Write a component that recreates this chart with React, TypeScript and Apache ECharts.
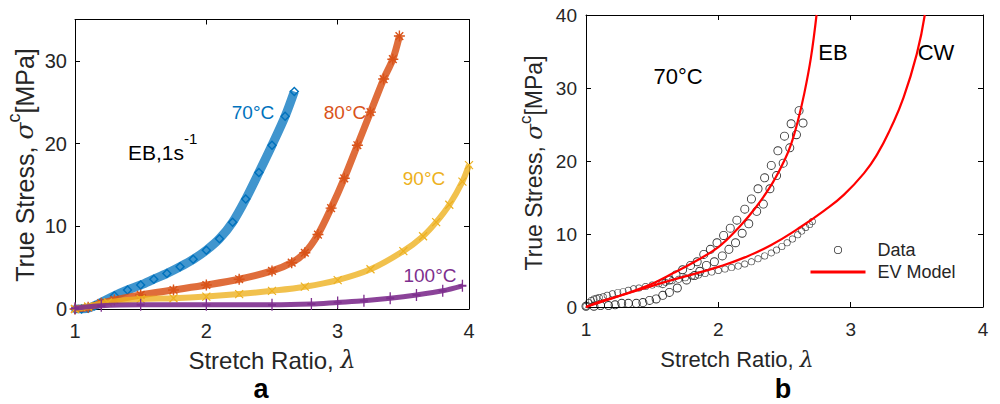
import React, { useEffect, useRef } from "react";
import * as echarts from "echarts";

// ---------- Panel a: EB, 1 s^-1 ----------
const t70X = [1.0, 1.05, 1.1, 1.15, 1.2, 1.3, 1.4, 1.5, 1.6, 1.7, 1.8, 1.9, 2.0, 2.1, 2.2, 2.3, 2.4, 2.5, 2.6, 2.67];
const t70Y = [0, 0, 0.1, 0.4, 0.8, 1.6, 2.3, 2.9, 3.6, 4.3, 5.1, 6.0, 7.1, 8.5, 10.5, 13.3, 16.5, 19.8, 23.3, 26.3];

const t80X = [1.0, 1.1, 1.2, 1.3, 1.5, 1.75, 2.0, 2.25, 2.5, 2.65, 2.75, 2.85, 2.95, 3.05, 3.15, 3.25, 3.35, 3.42, 3.47];
const t80Y = [0, 0.2, 0.7, 1.1, 1.7, 2.3, 2.9, 3.6, 4.6, 5.6, 6.8, 9.0, 12.2, 15.8, 19.8, 23.8, 27.8, 30.2, 33.0];

const t90X = [1.0, 1.1, 1.25, 1.5, 1.75, 2.0, 2.25, 2.5, 2.75, 3.0, 3.25, 3.5, 3.65, 3.75, 3.85, 3.95, 4.0];
const t90Y = [0, 0.3, 0.8, 1.2, 1.3, 1.5, 1.8, 2.2, 2.7, 3.5, 4.8, 7.0, 8.8, 10.5, 12.6, 15.4, 17.4];

const t100X = [1.0, 1.2, 1.5, 2.0, 2.5, 2.8, 3.0, 3.2, 3.4, 3.6, 3.8, 3.95];
const t100Y = [0.1, 0.4, 0.5, 0.5, 0.5, 0.6, 0.8, 1.0, 1.3, 1.7, 2.2, 2.8];

const aYTicks = [0, 10, 20, 30];

// ---------- Panel b: 70 C, data vs EV model ----------
const ebUpperX = [1.58, 1.63, 1.68, 1.73, 1.79, 1.84, 1.89, 1.94, 1.99, 2.04, 2.09, 2.14, 2.2, 2.25, 2.3, 2.35, 2.4, 2.45, 2.5, 2.55, 2.61];
const ebUpperY = [3.2, 3.7, 4.4, 5.1, 5.7, 6.2, 7.2, 7.9, 8.8, 9.8, 10.8, 11.9, 13.4, 14.8, 16.2, 17.7, 19.4, 21.4, 23.4, 25.1, 26.9];
const ebLowerX = [1.0, 1.06, 1.11, 1.17, 1.22, 1.27, 1.32, 1.38, 1.43, 1.48, 1.53, 1.58, 1.63, 1.69, 1.76, 1.82, 1.86, 1.91, 1.97, 2.03, 2.08, 2.13, 2.18, 2.23, 2.29, 2.34, 2.39, 2.44, 2.49, 2.54, 2.59, 2.64];
const ebLowerY = [0.1, 0.1, 0.2, 0.2, 0.3, 0.5, 0.5, 0.5, 0.6, 0.9, 1.1, 1.6, 2.0, 2.6, 3.7, 4.3, 4.9, 5.7, 6.2, 7.0, 7.9, 8.8, 10.1, 11.4, 13.1, 14.1, 16.2, 18.0, 19.7, 21.8, 23.6, 25.2];

const cwDataX = [1.0, 1.02, 1.04, 1.06, 1.08, 1.1, 1.13, 1.16, 1.2, 1.24, 1.28, 1.32, 1.36, 1.4, 1.45, 1.5, 1.55, 1.6, 1.65, 1.7, 1.75, 1.8, 1.85, 1.9, 1.95, 2.0, 2.05, 2.1, 2.15, 2.2, 2.25, 2.3, 2.35, 2.4, 2.44, 2.48, 2.52, 2.56, 2.6, 2.63, 2.66, 2.69, 2.71];
const cwDataY = [0.1, 0.6, 0.9, 1.1, 1.2, 1.3, 1.4, 1.6, 1.8, 2.0, 2.1, 2.3, 2.5, 2.6, 2.8, 3.0, 3.2, 3.4, 3.6, 3.8, 4.0, 4.2, 4.4, 4.6, 4.8, 5.0, 5.2, 5.4, 5.6, 5.9, 6.2, 6.6, 7.0, 7.4, 7.8, 8.3, 8.8, 9.3, 9.9, 10.4, 10.9, 11.3, 11.7];

const ebModelX = [1.0, 1.1, 1.25, 1.5, 1.66, 1.8, 2.0, 2.16, 2.29, 2.41, 2.5, 2.55, 2.6, 2.65, 2.7, 2.742];
const ebModelY = [0, 0.6, 1.5, 3.2, 4.65, 6.0, 8.2, 11.0, 13.8, 17.0, 20.1, 22.3, 25.4, 29.3, 34.2, 40];

const cwModelX = [1.0, 1.1, 1.25, 1.5, 1.75, 2.0, 2.2, 2.4, 2.6, 2.8, 2.95, 3.1, 3.2, 3.3, 3.4, 3.5, 3.56];
const cwModelY = [0, 0.7, 1.5, 2.9, 4.2, 5.5, 6.8, 8.5, 10.7, 13.2, 15.4, 18.3, 20.9, 24.4, 28.7, 34.7, 40];

const zip = (xs: number[], ys: number[]) => xs.map((x, i) => [x, ys[i]]);

const C70 = "#0072BD";
const C80 = "#D95319";
const C90 = "#EDB120";
const C100 = "#7E2F8E";
const TXT = "#262626";
const FONT = "'Liberation Sans', Arial, sans-serif";
const SERIF = "'DejaVu Serif', serif";

const DIAMOND = "path://M5,0L10,5L5,10L0,5Z M5,2L2,5L5,8L8,5Z";
const ASTERISK = "path://M5,0L5,10M0,5L10,5M1.5,1.5L8.5,8.5M8.5,1.5L1.5,8.5";
const CROSS = "path://M0,0L10,10M10,0L0,10";
const PLUS = "path://M5,0L5,10M0,5L10,5";
const RING = "path://M0,10A10,10 0 1,0 20,10A10,10 0 1,0 0,10Z M2,10A8,8 0 1,1 18,10A8,8 0 1,1 2,10Z";
const BAR = "path://M0,0L55,0L55,3L0,3Z";

export default function App() {
  const ref = useRef<HTMLDivElement>(null);

  useEffect(() => {
    if (!ref.current) return;
    const chart = echarts.init(ref.current, undefined, { renderer: "svg" });

    const axisLine = { show: true, onZero: false, lineStyle: { color: "#000", width: 1 } };
    const tick = { show: true, inside: true, length: 5, lineStyle: { color: "#000" } };
    const label = (fs: number, margin: number) => ({ color: TXT, fontSize: fs, fontFamily: FONT, margin });
    const base = { type: "value", axisLine, axisTick: tick, splitLine: { show: false } };
    const noLabel = { axisLabel: { show: false } };

    const option: any = {
      animation: false,
      backgroundColor: "#fff",
      grid: [
        { left: 75, right: 531, top: 19.5, bottom: 95 },
        { left: 586, right: 17, top: 15, bottom: 97 },
      ],
      xAxis: [
        { ...base, gridIndex: 0, min: 1, max: 4, interval: 1, position: "bottom", axisLabel: label(20, 12) },
        { ...base, gridIndex: 0, min: 1, max: 4, interval: 1, position: "top", ...noLabel },
        { ...base, gridIndex: 1, min: 1, max: 4, interval: 1, position: "bottom", axisLabel: label(19, 13) },
        { ...base, gridIndex: 1, min: 1, max: 4, interval: 1, position: "top", ...noLabel },
      ],
      yAxis: [
        { ...base, gridIndex: 0, min: 0, max: 35, interval: 10, position: "left", axisLabel: { ...label(20, 8), customValues: aYTicks }, axisTick: { ...tick, customValues: aYTicks } },
        { ...base, gridIndex: 0, min: 0, max: 35, interval: 10, position: "right", ...noLabel, axisTick: { ...tick, customValues: aYTicks } },
        { ...base, gridIndex: 1, min: 0, max: 40, interval: 10, position: "left", axisLabel: label(19, 9) },
        { ...base, gridIndex: 1, min: 0, max: 40, interval: 10, position: "right", ...noLabel },
      ],
      legend: {
        show: true,
        orient: "vertical",
        left: 805.5,
        top: 235,
        itemWidth: 55,
        itemHeight: 8,
        itemGap: 2,
        selectedMode: false,
        symbolKeepAspect: true,
        textStyle: { color: TXT, fontSize: 18, fontFamily: FONT, lineHeight: 20, padding: [0, 0, 0, 7] },
        data: [
          { name: "Data", icon: RING },
          { name: "EV Model", icon: BAR },
        ],
      },
      series: [
        // panel a
        {
          name: "70°C", type: "line", xAxisIndex: 0, yAxisIndex: 0, data: zip(t70X, t70Y), smooth: 0.3,
          lineStyle: { color: C70, width: 9, opacity: 0.75 }, symbol: DIAMOND, symbolSize: 10,
          itemStyle: { color: C70 }, z: 2,
        },
        {
          name: "80°C", type: "line", xAxisIndex: 0, yAxisIndex: 0, data: zip(t80X, t80Y), smooth: 0.3,
          lineStyle: { color: C80, width: 7, opacity: 0.85 }, symbol: ASTERISK, symbolSize: 11,
          itemStyle: { color: "none", borderColor: C80, borderWidth: 1.4 }, z: 3,
        },
        {
          name: "90°C", type: "line", xAxisIndex: 0, yAxisIndex: 0, data: zip(t90X, t90Y), smooth: 0.3,
          lineStyle: { color: C90, width: 6, opacity: 0.8 }, symbol: CROSS, symbolSize: 8,
          itemStyle: { color: "none", borderColor: C90, borderWidth: 1.2 }, z: 4,
        },
        {
          name: "100°C", type: "line", xAxisIndex: 0, yAxisIndex: 0, data: zip(t100X, t100Y), smooth: 0.3,
          lineStyle: { color: C100, width: 5, opacity: 0.9 }, symbol: PLUS, symbolSize: [8, 12],
          itemStyle: { color: "none", borderColor: C100, borderWidth: 1.6 }, z: 5,
        },
        // panel b
        {
          name: "Data", type: "scatter", xAxisIndex: 2, yAxisIndex: 2, data: zip(ebUpperX, ebUpperY),
          symbol: RING, symbolSize: 9, itemStyle: { color: "#000" }, z: 2,
        },
        {
          name: "Data", type: "scatter", xAxisIndex: 2, yAxisIndex: 2, data: zip(ebLowerX, ebLowerY),
          symbol: RING, symbolSize: 9, itemStyle: { color: "#000" }, z: 2,
        },
        {
          name: "Data", type: "scatter", xAxisIndex: 2, yAxisIndex: 2, data: zip(cwDataX, cwDataY),
          symbol: RING, symbolSize: 7, itemStyle: { color: "#222" }, z: 2,
        },
        {
          name: "EV Model", type: "line", xAxisIndex: 2, yAxisIndex: 2, data: zip(ebModelX, ebModelY), smooth: 0.4,
          showSymbol: false, symbol: "none", lineStyle: { color: "#FF0000", width: 2.2 }, itemStyle: { color: "#FF0000" }, z: 5,
        },
        {
          name: "EV Model", type: "line", xAxisIndex: 2, yAxisIndex: 2, data: zip(cwModelX, cwModelY), smooth: 0.5,
          showSymbol: false, symbol: "none", lineStyle: { color: "#FF0000", width: 2.2 }, itemStyle: { color: "#FF0000" }, z: 5,
        },
      ],
      graphic: [
        // panel a texts
        { type: "text", x: 253, y: 112, style: { text: "70°C", fill: C70, font: `19px ${FONT}`, align: "center", verticalAlign: "middle" } },
        { type: "text", x: 345, y: 112, style: { text: "80°C", fill: C80, font: `19px ${FONT}`, align: "center", verticalAlign: "middle" } },
        { type: "text", x: 424, y: 178, style: { text: "90°C", fill: C90, font: `19px ${FONT}`, align: "center", verticalAlign: "middle" } },
        { type: "text", x: 430, y: 275, style: { text: "100°C", fill: C100, font: `19px ${FONT}`, align: "center", verticalAlign: "middle" } },
        {
          type: "text", x: 128, y: 147,
          style: {
            text: "{n|EB,1s}{s|-1}", align: "left", verticalAlign: "middle",
            rich: {
              n: { fontSize: 21, fontFamily: FONT, fill: "#000", lineHeight: 32, verticalAlign: "bottom" },
              s: { fontSize: 15, fontFamily: FONT, fill: "#000", lineHeight: 32, verticalAlign: "top" },
            },
          },
        },
        {
          type: "text", x: 272, y: 360.3,
          style: {
            text: "{n|Stretch Ratio, }{i|λ}", align: "center", verticalAlign: "middle",
            rich: {
              n: { fontSize: 24, fontFamily: FONT, fill: TXT, lineHeight: 24 },
              i: { fontSize: 24, fontFamily: SERIF, fontStyle: "italic", fill: TXT, lineHeight: 24 },
            },
          },
        },
        {
          type: "text", x: 21, y: 165, rotation: Math.PI / 2,
          style: {
            text: "{n|True Stress, }{i|σ}{s|c}{n|[MPa]}", align: "center", verticalAlign: "middle",
            rich: {
              n: { fontSize: 25, fontFamily: FONT, fill: TXT, lineHeight: 32, verticalAlign: "bottom" },
              i: { fontSize: 25, fontFamily: SERIF, fontStyle: "italic", fill: TXT, lineHeight: 32, verticalAlign: "bottom" },
              s: { fontSize: 18, fontFamily: FONT, fill: TXT, lineHeight: 32, verticalAlign: "top" },
            },
          },
        },
        { type: "text", x: 261, y: 388.8, style: { text: "a", fill: "#000", font: `bold 27px ${FONT}`, align: "center", verticalAlign: "middle" } },
        // panel b texts
        { type: "text", x: 678, y: 76, style: { text: "70°C", fill: "#000", font: `22px ${FONT}`, align: "center", verticalAlign: "middle" } },
        { type: "text", x: 833, y: 52, style: { text: "EB", fill: "#000", font: `22px ${FONT}`, align: "center", verticalAlign: "middle" } },
        { type: "text", x: 936, y: 52, style: { text: "CW", fill: "#000", font: `22px ${FONT}`, align: "center", verticalAlign: "middle" } },
        {
          type: "text", x: 737, y: 359,
          style: {
            text: "{n|Stretch Ratio, }{i|λ}", align: "center", verticalAlign: "middle",
            rich: {
              n: { fontSize: 22, fontFamily: FONT, fill: TXT, lineHeight: 22 },
              i: { fontSize: 22, fontFamily: SERIF, fontStyle: "italic", fill: TXT, lineHeight: 22 },
            },
          },
        },
        {
          type: "text", x: 531, y: 163, rotation: Math.PI / 2,
          style: {
            text: "{n|True Stress, }{i|σ}{s|c}{n|[MPa]}", align: "center", verticalAlign: "middle",
            rich: {
              n: { fontSize: 23, fontFamily: FONT, fill: TXT, lineHeight: 28, verticalAlign: "bottom" },
              i: { fontSize: 23, fontFamily: SERIF, fontStyle: "italic", fill: TXT, lineHeight: 28, verticalAlign: "bottom" },
              s: { fontSize: 17, fontFamily: FONT, fill: TXT, lineHeight: 28, verticalAlign: "top" },
            },
          },
        },
        { type: "text", x: 783, y: 388.8, style: { text: "b", fill: "#000", font: `bold 27px ${FONT}`, align: "center", verticalAlign: "middle" } },
      ],
    };

    chart.setOption(option);
    return () => chart.dispose();
  }, []);

  return <div ref={ref} style={{ width: 1000, height: 404, position: "absolute", left: 0, top: 0 }} />;
}
